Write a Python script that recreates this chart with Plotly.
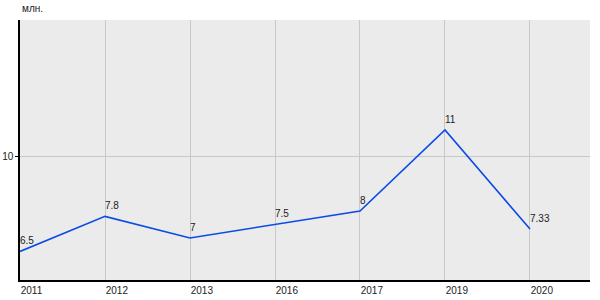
import plotly.graph_objects as go

years = ["2011", "2012", "2013", "2016", "2017", "2019", "2020"]
values = [6.5, 7.8, 7, 7.5, 8, 11, 7.33]
labels = ["6.5", "7.8", "7", "7.5", "8", "11", "7.33"]

fig = go.Figure()
fig.add_trace(go.Scatter(
    x=list(range(len(years))), y=values, mode="lines",
    line=dict(color="#0a4be6", width=1.6),
    hoverinfo="skip",
))

annotations = [dict(
    text="млн.", xref="paper", yref="paper", x=0, y=1,
    xanchor="left", yanchor="bottom", yshift=4, showarrow=False,
    font=dict(size=10, color="#222222"),
)]
for i, (v, t) in enumerate(zip(values, labels)):
    annotations.append(dict(
        x=i, y=v, xref="x", yref="y", text=t, showarrow=False,
        xanchor="left", yanchor="bottom", xshift=-2, yshift=3,
        font=dict(size=10, color="#222222"),
    ))

fig.update_layout(
    width=600, height=300,
    margin=dict(l=20, r=10, t=20, b=20),
    paper_bgcolor="white", plot_bgcolor="#ebebeb",
    showlegend=False,
    font=dict(family="Liberation Sans, Arial", size=10, color="#222222"),
    xaxis=dict(
        range=[0, 6.706], tickmode="array",
        tickvals=list(range(len(years))), ticktext=years,
        showgrid=True, gridcolor="#c8c8c8", gridwidth=1,
        showline=True, linecolor="black", linewidth=1.5,
        ticks="", ticklabelposition="outside right",
        zeroline=False, tickfont=dict(size=10), automargin=False,
    ),
    yaxis=dict(
        range=[5.444, 15.07], tickvals=[10], ticktext=["10"],
        showgrid=True, gridcolor="#c8c8c8", gridwidth=1,
        showline=True, linecolor="black", linewidth=1.5,
        ticks="outside", ticklen=3, tickcolor="black",
        zeroline=False, tickfont=dict(size=10), automargin=False,
    ),
    annotations=annotations,
)

fig.write_html("out.html")
